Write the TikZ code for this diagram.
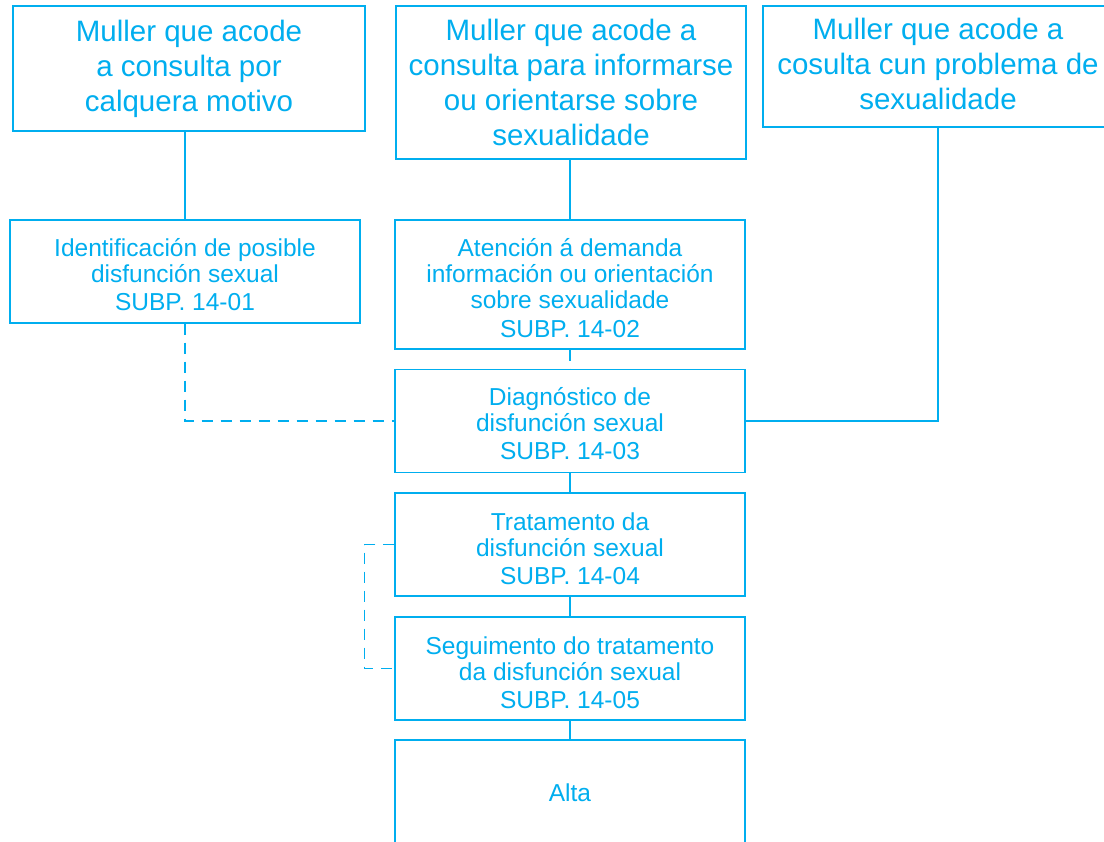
\documentclass[tikz,border=0pt]{standalone}
\usepackage{fontspec}
\setmainfont{Liberation Sans}
\definecolor{cy}{RGB}{0,174,239}
\begin{document}
\begin{tikzpicture}[x=1pt,y=-1pt,
  box/.style={draw=cy,line width=1.4pt,text=cy,align=center,inner sep=0pt},
  big/.style={box,font=\fontsize{29.5}{35}\selectfont},
  small/.style={box,minimum width=350,minimum height=103},
  txt/.style={text=cy,align=center,inner sep=0pt,font=\fontsize{24.5}{26}\selectfont},
  bigtxt/.style={text=cy,align=center,inner sep=0pt,font=\fontsize{29.5}{35}\selectfont},
  con/.style={draw=cy,line width=1.4pt},
  dcon/.style={con,dash pattern=on 11pt off 8pt}]
\useasboundingbox[fill=white] (0,0) rectangle (1104,842);
\node[big,minimum width=352,minimum height=125] (tl) at (189,68.5) {Muller que acode\\a consulta por\\calquera motivo};
\node[big,minimum width=350,minimum height=153] (tm) at (571,82.5) {Muller que acode a\\consulta para informarse\\ou orientarse sobre\\sexualidade};
\node[big,minimum width=350,minimum height=121] (tr) at (938,66.5) {};
\node[bigtxt] (ttr) at ([yshift=3pt]tr.center) {Muller que acode a\\cosulta cun problema de\\sexualidade};
\node[small] (b1) at (185,271.5) {};
\node[small,minimum height=129] (b2) at (570,284.5) {};
\node[small] (b3) at (570,421) {};
\node[small] (b4) at (570,544.5) {};
\node[small] (b5) at (570,668.5) {};
\node[small,minimum height=106] (alta) at (570,793) {};
\node[txt] (t1) at ([yshift=-3.5pt]b1.center) {Identificación de posible\\disfunción sexual\\[2pt]SUBP. 14-01};
\node[txt] (t2) at ([yshift=-3.5pt]b2.center) {Atención á demanda\\información ou orientación\\sobre sexualidade\\[3pt]SUBP. 14-02};
\node[txt] (t3) at ([yshift=-3pt]b3.center) {Diagnóstico de\\disfunción sexual\\[2pt]SUBP. 14-03};
\node[txt] (t4) at ([yshift=-4pt]b4.center) {Tratamento da\\disfunción sexual\\[2pt]SUBP. 14-04};
\node[txt] (t5) at ([yshift=-4pt]b5.center) {Seguimento do tratamento\\da disfunción sexual\\[2pt]SUBP. 14-05};
\node[txt] (t6) at (alta.center) {Alta};
\path[con] (b1.north) -- (b1.north |- tl.south);
\path[con] (b2.north) -- (b2.north |- tm.south);
\path[dcon] (b2.south) -- (b3.north);
\path[dcon] (b1.south) -- (b1.south |- b3.west) -- (b3.west);
\path[con] (tr.south) -- (tr.south |- b3.east) -- (b3.east);
\path[con] (b3.south) -- (b4.north);
\path[con] (b4.south) -- (b5.north);
\path[con] (b5.south) -- (alta.north);
\coordinate (k1) at ([xshift=-30pt]b4.west);
\path[dcon] (b4.west) -- (k1) -- (k1 |- b5.west) -- (b5.west);
\end{tikzpicture}
\end{document}
